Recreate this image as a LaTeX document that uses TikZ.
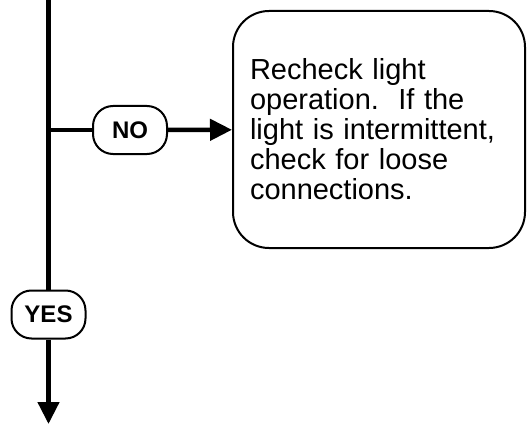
\documentclass[tikz,border=0pt]{standalone}
\usepackage{fontspec}
\setmainfont{Liberation Sans}
\usetikzlibrary{arrows.meta,positioning}
\tikzset{
  pill/.style={
    rectangle, draw=black, line width=2pt, rounded corners=20pt,
    minimum width=74pt, minimum height=48pt, inner sep=0pt,
    font=\fontsize{24}{26}\selectfont\bfseries
  },
  infobox/.style={
    rectangle, draw=black, line width=2pt, rounded corners=36pt,
    minimum width=292pt, minimum height=237pt, inner xsep=17pt,
    text width=258pt, align=left,
    font=\fontsize{29}{30}\selectfont
  },
  flow/.style={draw=black, line width=4.5pt},
  flowarrow/.style={flow, -{Triangle[length=22pt,width=21pt]}}
}
\begin{document}
\begin{tikzpicture}[x=1pt, y=-1pt]
  \useasboundingbox (0,0) rectangle (527,425);
  \coordinate (top)    at (48.5,0);
  \coordinate (branch) at (48.5,130);
  \coordinate (bottom) at (48.5,424);
  \node[pill]    (no)      at (130,130)   {NO};
  \node[pill]    (yes)     at (48.5,314.5) {YES};
  \node[infobox] (recheck) at (379,129.5)
    {Recheck light\\operation.\ \ If the\\light is intermittent,\\check for loose\\connections.};
  \draw[flow] (top) -- (yes);
  \draw[flow] (branch) -- (no);
  \draw[flowarrow] (no) -- (recheck);
  \draw[flowarrow] (yes) -- (bottom);
\end{tikzpicture}
\end{document}
